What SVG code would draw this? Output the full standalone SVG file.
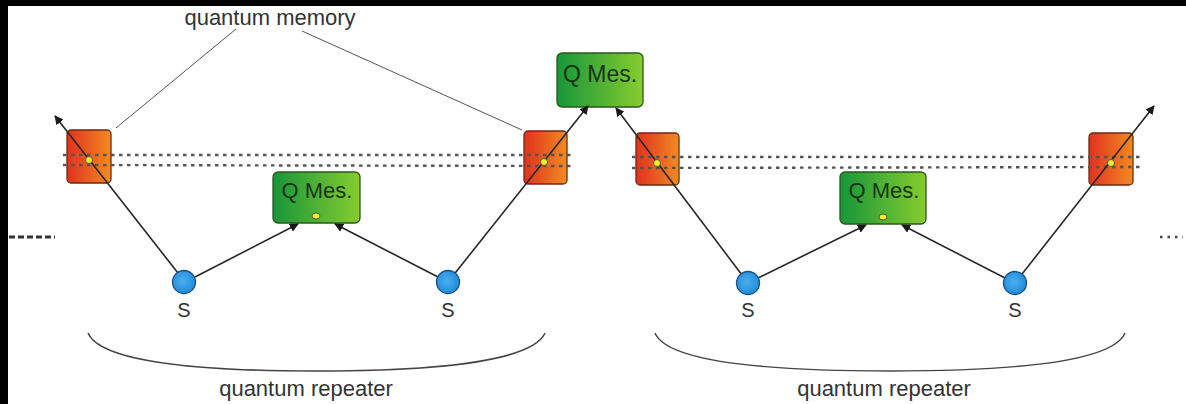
<svg xmlns="http://www.w3.org/2000/svg" width="1186" height="404" viewBox="0 0 1186 404">
<defs>
<linearGradient id="mem" x1="0" y1="0" x2="1" y2="0">
<stop offset="0" stop-color="#e0321f"/>
<stop offset="1" stop-color="#f28a22"/>
</linearGradient>
<linearGradient id="qm" x1="0" y1="0" x2="1" y2="0">
<stop offset="0" stop-color="#17963a"/>
<stop offset="1" stop-color="#86cc2e"/>
</linearGradient>
<radialGradient id="src" cx="0.45" cy="0.45" r="0.6">
<stop offset="0" stop-color="#4ab0f0"/>
<stop offset="1" stop-color="#1e88d8"/>
</radialGradient>
<marker id="ah" viewBox="0 0 10 10" refX="9" refY="5" markerWidth="9" markerHeight="9" markerUnits="userSpaceOnUse" orient="auto">
<path d="M0,0 L10,5 L0,10 Z" fill="#1a1a1a"/>
</marker>
</defs>
<style>
.mem{fill:url(#mem);stroke:#6b2a12;stroke-width:1.3}
.qm{fill:url(#qm);stroke:#2c5520;stroke-width:1.3}
.src{fill:url(#src);stroke:#1a4f80;stroke-width:1.3}
.qt{font-family:"Liberation Sans",Arial,sans-serif;font-size:22px;fill:#173417;text-anchor:middle}
.lbl{font-family:"Liberation Sans",Arial,sans-serif;font-size:22px;fill:#333;text-anchor:middle}
.sl{font-family:"Liberation Sans",Arial,sans-serif;font-size:20px;fill:#333;text-anchor:middle}
.con{stroke:#262626;stroke-width:1.6;fill:none}
.arr{stroke:#262626;stroke-width:1.6;fill:none;marker-end:url(#ah)}
.pt{stroke:#555;stroke-width:1;fill:none}
.dot{stroke:#555;stroke-width:2.4;stroke-dasharray:3.5 4.5;fill:none}
.yd{fill:#f4f020;stroke:#555;stroke-width:1}
.br{stroke:#444;stroke-width:1.5;fill:none}
</style>
<rect width="1186" height="404" fill="#fff"/>

<g id="nodes-memory">
<g id="mem1"><rect class="mem" x="67" y="130" width="44" height="53" rx="4"/></g>
<g id="mem2"><rect class="mem" x="524" y="131" width="43" height="53" rx="4"/></g>
<g id="mem3"><rect class="mem" x="636" y="133" width="43" height="52" rx="4"/></g>
<g id="mem4"><rect class="mem" x="1089" y="133" width="44" height="52" rx="4"/></g>
</g>

<g id="qmes-top"><rect class="qm" x="557" y="53" width="86" height="54" rx="5"/><text class="qt" x="600" y="82" style="font-size:23px">Q Mes.</text></g>
<g id="qmes-left"><rect class="qm" x="273" y="172" width="87" height="51" rx="5"/><text class="qt" x="317" y="198">Q Mes.</text><ellipse class="yd" cx="316" cy="216" rx="4" ry="3"/></g>
<g id="qmes-right"><rect class="qm" x="840" y="172" width="86" height="52" rx="5"/><text class="qt" x="884" y="198">Q Mes.</text><ellipse class="yd" cx="883" cy="217" rx="4" ry="3"/></g>

<g id="connectors">
<line class="dot" x1="63" y1="155" x2="571" y2="155"/>
<line class="dot" x1="63" y1="165" x2="571" y2="166"/>
<line class="dot" x1="632" y1="157" x2="1141" y2="157"/>
<line class="dot" x1="632" y1="168" x2="1141" y2="167"/>
<line class="arr" x1="185" y1="282" x2="55" y2="116"/>
<line class="arr" x1="448" y1="282" x2="588" y2="106"/>
<line class="arr" x1="748" y1="283" x2="616" y2="108"/>
<line class="arr" x1="1015" y1="283" x2="1154" y2="106"/>
<line class="arr" x1="195" y1="277" x2="298" y2="224"/>
<line class="arr" x1="438" y1="277" x2="335" y2="224"/>
<line class="arr" x1="758" y1="278" x2="866" y2="225"/>
<line class="arr" x1="1005" y1="278" x2="902" y2="225"/>
<line class="pt" x1="236" y1="29" x2="116" y2="128"/>
<line class="pt" x1="302" y1="31" x2="522" y2="130"/>
<path class="br" d="M88,333 C100,362 200,371 315,371 C430,371 532,362 545,333"/>
<path class="br" d="M655,333 C667,362 770,371 890,371 C1010,371 1113,362 1125,333"/>
<line x1="9" y1="237" x2="55" y2="237" stroke="#333" stroke-width="3" stroke-dasharray="6 3"/>
<line x1="1160" y1="237" x2="1183" y2="237" stroke="#444" stroke-width="2.5" stroke-dasharray="2.5 5"/>
</g>

<g id="memory-points">
<circle class="yd" cx="89" cy="160" r="3.5"/>
<circle class="yd" cx="544" cy="162" r="3.5"/>
<circle class="yd" cx="657" cy="163" r="3.5"/>
<circle class="yd" cx="1111" cy="163" r="3.5"/>
</g>

<g id="sources">
<g id="s1"><circle class="src" cx="184" cy="282" r="11.5"/><text class="sl" x="184" y="317">S</text></g>
<g id="s2"><circle class="src" cx="448" cy="282" r="11.5"/><text class="sl" x="448" y="317">S</text></g>
<g id="s3"><circle class="src" cx="748" cy="283" r="11.5"/><text class="sl" x="748" y="317">S</text></g>
<g id="s4"><circle class="src" cx="1015" cy="283" r="11.5"/><text class="sl" x="1015" y="317">S</text></g>
</g>

<g id="labels">
<text class="lbl" x="270" y="25">quantum memory</text>
<text class="lbl" x="306" y="396">quantum repeater</text>
<text class="lbl" x="884" y="396">quantum repeater</text>
</g>

<rect x="0" y="0" width="1186" height="6" fill="#000"/>
<rect x="0" y="0" width="8" height="404" fill="#000"/>
</svg>
